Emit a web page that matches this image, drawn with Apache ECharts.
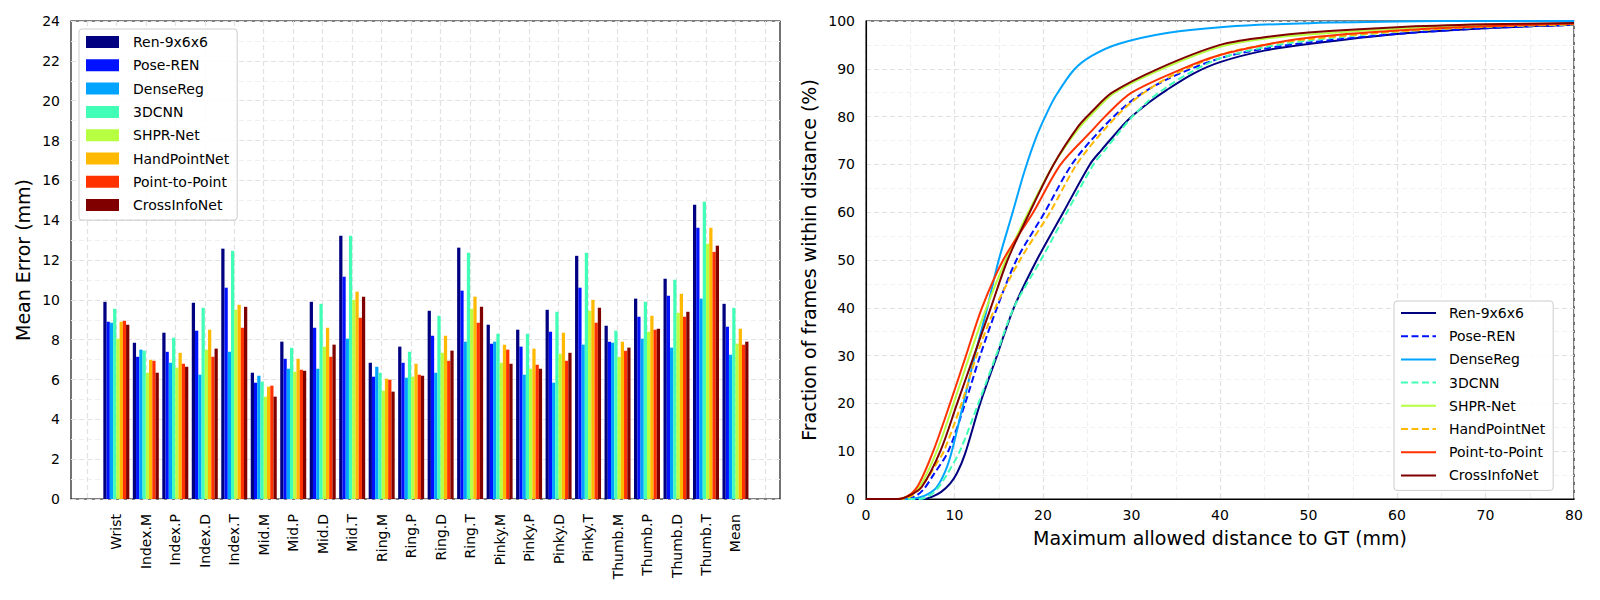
<!DOCTYPE html>
<html>
<head>
<meta charset="utf-8">
<script src="https://cdn.jsdelivr.net/npm/echarts@6/dist/echarts.min.js"></script>
<style>
  html, body { margin: 0; padding: 0; background: #ffffff; }
  #chart { width: 1600px; height: 600px; }
</style>
</head>
<body>
<div id="chart"></div>
<script>
// ---------- data ----------
const joints = ['Wrist','Index.M','Index.P','Index.D','Index.T','Mid.M','Mid.P','Mid.D','Mid.T','Ring.M','Ring.P','Ring.D','Ring.T','Pinky.M','Pinky.P','Pinky.D','Pinky.T','Thumb.M','Thumb.P','Thumb.D','Thumb.T','Mean'];
const methods = ['Ren-9x6x6','Pose-REN','DenseReg','3DCNN','SHPR-Net','HandPointNet','Point-to-Point','CrossInfoNet'];
const methodColors = ['#000080','#0012ff','#00a4ff','#41ffb6','#b6ff41','#ffb900','#ff3200','#800000'];
const methodDashed = [false, true, false, true, false, true, false, false];

// mean error per joint (mm)
const errRen   = [9.90,7.85,8.35,9.85,12.57,6.34,7.90,9.90,13.22,6.84,7.65,9.45,12.62,8.75,8.50,9.50,12.21,8.70,10.06,11.06,14.77,9.80];
const errPose  = [8.90,7.14,7.39,8.45,10.61,5.84,7.04,8.60,11.16,6.14,6.84,8.20,10.46,7.80,7.65,8.40,10.61,7.90,9.15,10.21,13.62,8.65];
const errDense = [8.85,7.50,6.84,6.24,7.39,6.19,6.54,6.54,8.05,6.64,6.09,6.34,7.90,7.90,6.24,5.84,7.75,7.85,8.05,7.60,10.06,7.24];
const err3D    = [9.55,7.45,8.10,9.60,12.46,5.89,7.60,9.80,13.22,6.34,7.39,9.20,12.36,8.30,8.30,9.40,12.36,8.45,9.90,11.01,14.92,9.60];
const errSHPR  = [8.05,6.34,6.59,7.50,9.50,5.14,6.39,7.65,10.00,5.44,6.14,7.34,9.55,6.84,6.54,7.29,9.45,7.14,8.40,9.35,12.82,7.80];
const errHPN   = [8.90,6.99,7.34,8.50,9.75,5.64,7.04,8.60,10.41,6.04,6.79,8.20,10.16,7.75,7.55,8.35,10.00,7.90,9.20,10.31,13.62,8.55];
const errP2P   = [8.95,6.94,6.79,7.14,8.60,5.69,6.49,7.14,9.10,5.99,6.24,6.94,8.85,7.50,6.74,6.94,8.85,7.44,8.50,9.15,12.41,7.75];
const errCIN   = [8.75,6.34,6.64,7.55,9.65,5.14,6.44,7.75,10.16,5.39,6.19,7.45,9.65,6.79,6.54,7.34,9.60,7.60,8.55,9.40,12.72,7.90];

// fraction of frames within distance: [distance (mm), percent]
const cdfRen   = [[0,0],[6.5,0],[7.5,0.5],[8.5,1.5],[9.5,3.2],[10.3,5.5],[11.2,9.5],[12.9,20],[14.8,30],[16.7,40],[19.3,50],[22.3,60],[25.3,70],[26.6,73],[28,76],[29.6,79.3],[32,83],[34,85.6],[37,89],[40,91.4],[45,93.8],[50,95.2],[60,97.3],[70,98.5],[80,99.2]];
const cdfPose  = [[0,0],[4.5,0],[5.5,0.5],[6.5,2],[7.6,5],[9.3,10],[11.2,20],[12.9,30],[14.8,40],[17.0,50],[20.2,60],[23.25,70],[26.4,77],[30,83.3],[34,87.8],[40,92.2],[45,94.2],[50,95.5],[60,97.3],[70,98.5],[80,99.2]];
const cdfDense = [[0,0],[5,0],[6,0.3],[7,1],[8,2.5],[9,6],[9.7,10],[11,20],[12.3,30],[13.7,40],[15.0,50],[16.5,59.5],[17.9,68.5],[19.3,76],[20.5,81],[21.5,84.5],[23.5,89.8],[25.5,92.7],[28.5,95.2],[34,97.5],[40.7,98.8],[49,99.5],[60,99.9],[70,100],[80,100]];
const cdf3D    = [[0,0],[6,0],[7,0.5],[8,2],[9.1,5],[10.6,10],[12.7,20],[14.7,30],[16.7,40],[19.75,50],[22.7,60],[25.7,70],[27,73],[28.5,76.5],[30,79.8],[32,83.4],[34,86.2],[37,89.6],[40,92.2],[45,94.5],[50,95.9],[60,97.8],[70,98.8],[80,99.3]];
const cdfSHPR  = [[0,0],[3.7,0],[5,0.9],[6.2,3],[8.0,10],[9.9,20],[11.7,30],[13.6,40],[15.8,50],[18.35,60],[21.2,70],[23.9,77.2],[25.5,80.5],[28.1,85],[33.5,90],[40,94.6],[45,96.3],[50,97.2],[60,98.4],[70,99.1],[80,99.5]];
const cdfHPN   = [[0,0],[4,0],[5,0.5],[6,2],[7,4.5],[8,7.5],[8.8,10],[10.8,20],[12.5,30],[14.6,40],[17.4,50],[20.8,60],[23.8,70],[26.8,77],[30,83],[34,88],[40,92.9],[45,95],[50,96.2],[60,97.8],[70,98.8],[80,99.3]];
const cdfP2P   = [[0,0],[3.5,0],[5,1],[6,3.2],[7.6,10],[9.5,20],[11.3,30],[13.1,40],[15.5,50],[18.9,60],[22,70],[25.5,77],[27,80],[30,85],[36,90.2],[40,92.9],[45,95],[50,96.5],[60,98],[70,98.9],[80,99.4]];
const cdfCIN   = [[0,0],[3.7,0],[5,0.8],[6.3,2.5],[8.4,10],[10.3,20],[12.2,30],[14.1,40],[16.0,50],[18.5,60],[21.2,70],[24,78],[25.5,81],[27.8,85],[33,90],[40,95],[45,96.6],[50,97.6],[60,98.7],[70,99.3],[80,99.6]];

const yTicksLeft = [0, 24, 2];
const xTicksRight = [0, 80, 10];
const yTicksRight = [0, 100, 10];

// ---------- build ----------
const errSets = [errRen, errPose, errDense, err3D, errSHPR, errHPN, errP2P, errCIN];
const cdfSets = [cdfRen, cdfPose, cdfDense, cdf3D, cdfSHPR, cdfHPN, cdfP2P, cdfCIN];
const LINE_PREFIX = 'pck:';
const FONT = 'DejaVu Sans';

const gridMajor = { show: true, lineStyle: { color: '#e2e2e2', width: 1.2, type: [5, 3] } };
const gridMinor = { show: true, lineStyle: { color: '#f0f0f0', width: 1.2, type: [5, 3] } };

const series = [];
methods.forEach((m, i) => {
  series.push({
    type: 'bar', name: m, xAxisIndex: 0, yAxisIndex: 0,
    data: [null].concat(errSets[i]).concat([null]),
    barWidth: 3.25, barGap: '0%',
    itemStyle: { color: methodColors[i] },
    silent: true, animation: false
  });
});
methods.forEach((m, i) => {
  series.push({
    type: 'line', name: LINE_PREFIX + m, xAxisIndex: 2, yAxisIndex: 2,
    data: cdfSets[i], smooth: 0.3,
    symbol: 'none', showSymbol: false,
    itemStyle: { color: methodColors[i] },
    lineStyle: { color: methodColors[i], width: 2, type: methodDashed[i] ? [7, 3.5] : 'solid' },
    silent: true, animation: false
  });
});

const chart = echarts.init(document.getElementById('chart'), null, { renderer: 'svg' });
chart.setOption({
  backgroundColor: '#ffffff',
  animation: false,
  textStyle: { fontFamily: FONT },
  grid: [
    { left: 86.85, right: 1600 - 764.95, top: 21, bottom: 101 },             // bars
    { left: 71, right: 820, top: 21, bottom: 101, show: true, borderColor: '#000', borderWidth: 1.1, backgroundColor: 'transparent' }, // frame
    { left: 866, right: 26, top: 21, bottom: 101, show: true, borderColor: '#000', borderWidth: 1.1, backgroundColor: 'transparent' }
  ],
  xAxis: [
    { gridIndex: 0, type: 'category', boundaryGap: false,
      data: [''].concat(joints).concat(['']),
      axisLine: { show: false }, axisTick: { show: false },
      axisLabel: { rotate: 90, interval: 0, fontSize: 14, color: '#000', margin: 15, fontFamily: FONT },
      splitLine: gridMajor },
    { gridIndex: 1, type: 'value', min: 0, max: 1, show: false },
    { gridIndex: 2, type: 'value', min: xTicksRight[0], max: xTicksRight[1], interval: xTicksRight[2],
      axisLine: { show: true, lineStyle: { color: '#000', width: 1.1 } },
      axisTick: { show: false },
      axisLabel: { fontSize: 14, color: '#000', margin: 9, fontFamily: FONT },
      splitLine: gridMajor, minorTick: { show: false, splitNumber: 2 }, minorSplitLine: gridMinor,
      name: 'Maximum allowed distance to GT (mm)', nameLocation: 'middle', nameGap: 29,
      nameTextStyle: { fontSize: 19, color: '#000', fontFamily: FONT } }
  ],
  yAxis: [
    { gridIndex: 0, type: 'value', min: yTicksLeft[0], max: yTicksLeft[1], show: false },
    { gridIndex: 1, type: 'value', min: yTicksLeft[0], max: yTicksLeft[1], interval: yTicksLeft[2],
      axisLine: { show: false }, axisTick: { show: false },
      axisLabel: { fontSize: 14, color: '#000', margin: 11, fontFamily: FONT },
      splitLine: gridMajor, minorTick: { show: false, splitNumber: 2 }, minorSplitLine: gridMinor,
      name: 'Mean Error (mm)', nameLocation: 'middle', nameGap: 39,
      nameTextStyle: { fontSize: 19, color: '#000', fontFamily: FONT } },
    { gridIndex: 2, type: 'value', min: yTicksRight[0], max: yTicksRight[1], interval: yTicksRight[2],
      axisLine: { show: true, lineStyle: { color: '#000', width: 1.1 } }, axisTick: { show: false },
      axisLabel: { fontSize: 14, color: '#000', margin: 11, fontFamily: FONT },
      splitLine: gridMajor, minorTick: { show: false, splitNumber: 2 }, minorSplitLine: gridMinor,
      name: 'Fraction of frames within distance (%)', nameLocation: 'middle', nameGap: 48,
      nameTextStyle: { fontSize: 19, color: '#000', fontFamily: FONT } }
  ],
  legend: [
    { data: methods, orient: 'vertical', left: 79, top: 29, icon: 'rect',
      itemWidth: 33, itemHeight: 12, itemGap: 9.3,
      padding: [6, 8, 8, 7],
      backgroundColor: 'rgba(255,255,255,0.85)', borderColor: '#cccccc', borderWidth: 1, borderRadius: 3,
      textStyle: { fontSize: 14, color: '#000', lineHeight: 14, padding: [0, 0, 0, 9], fontFamily: FONT },
      selectedMode: false },
    { data: methods.map(m => LINE_PREFIX + m), orient: 'vertical', left: 1394, top: 301,
      itemWidth: 35, itemHeight: 14, itemGap: 9.2,
      padding: [5, 8, 8, 6],
      itemStyle: { opacity: 0 },
      formatter: n => n.replace(LINE_PREFIX, ''),
      backgroundColor: 'rgba(255,255,255,0.85)', borderColor: '#cccccc', borderWidth: 1, borderRadius: 3,
      textStyle: { fontSize: 14, color: '#000', lineHeight: 14, padding: [0, 0, 0, 8], fontFamily: FONT },
      selectedMode: false }
  ],
  series: series
});
</script>
</body>
</html>
